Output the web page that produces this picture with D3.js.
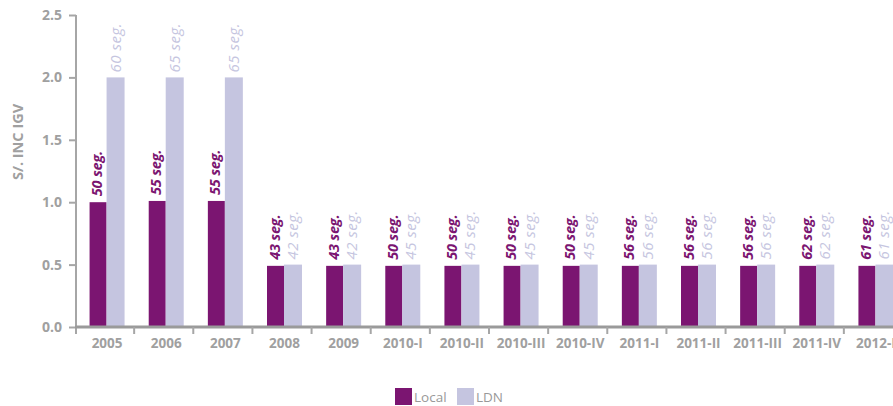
<!DOCTYPE html>
<html>
<head>
<meta charset="utf-8">
<script src="https://cdn.jsdelivr.net/npm/d3@7"></script>
<style>
  html, body { margin: 0; padding: 0; background: #fff; }
  svg { display: block; font-family: "Open Sans", "Noto Sans", sans-serif; }
</style>
</head>
<body>
<svg id="chart" width="893" height="406"></svg>
<script>
// Periods on the x axis
const categories = ["2005", "2006", "2007", "2008", "2009", "2010-I", "2010-II", "2010-III",
  "2010-IV", "2011-I", "2011-II", "2011-III", "2011-IV", "2012-I"];
// Price per call (S/. including IGV)
const localPrice = [1.0, 1.01, 1.01, 0.49, 0.49, 0.49, 0.49, 0.49, 0.49, 0.49, 0.49, 0.49, 0.49, 0.49];
const ldnPrice = [2.0, 2.0, 2.0, 0.5, 0.5, 0.5, 0.5, 0.5, 0.5, 0.5, 0.5, 0.5, 0.5, 0.5];
// Seconds included for that price
const localSeg = [50, 55, 55, 43, 43, 50, 50, 50, 50, 56, 56, 56, 62, 61];
const ldnSeg = [60, 65, 65, 42, 42, 45, 45, 45, 45, 56, 56, 56, 62, 61];
const yTicks = [0, 0.5, 1.0, 1.5, 2.0, 2.5];
const seriesNames = ["Local", "LDN"];

const colLocal = "#7b1571";
const colLDN = "#c5c5e0";
const axisGray = "#a6a6a6";
const textGray = "#a0a0a0";

const svg = d3.select("#chart");

const x = d3.scaleBand().domain(categories).range([75, 903]).padding(0);
const y = d3.scaleLinear().domain([0, 2.5]).range([327, 15]);

const bw = x.bandwidth();
const localW = 17, ldnW = 18;
const groupCenter = c => x(c) + bw / 2 + 2.5;
const localX = c => groupCenter(c) - (localW + ldnW) / 2;
const ldnX = c => localX(c) + localW;

// Bars
const g = svg.append("g");
g.selectAll("rect.local").data(categories).join("rect")
  .attr("class", "local")
  .attr("x", c => localX(c))
  .attr("width", localW)
  .attr("y", (c, i) => y(localPrice[i]))
  .attr("height", (c, i) => y(0) - y(localPrice[i]))
  .attr("fill", colLocal);
g.selectAll("rect.ldn").data(categories).join("rect")
  .attr("class", "ldn")
  .attr("x", c => ldnX(c))
  .attr("width", ldnW)
  .attr("y", (c, i) => y(ldnPrice[i]))
  .attr("height", (c, i) => y(0) - y(ldnPrice[i]))
  .attr("fill", colLDN);

// Rotated value labels
g.selectAll("text.lloc").data(categories).join("text")
  .attr("class", "lloc")
  .attr("transform", (c, i) => `translate(${localX(c) + localW / 2 + 4},${y(localPrice[i]) - 6}) rotate(-90)`)
  .attr("fill", colLocal)
  .attr("font-size", 14.5)
  .attr("font-weight", 700)
  .attr("font-style", "italic")
  .attr("letter-spacing", -0.2)
  .text((c, i) => `${localSeg[i]} seg.`);
g.selectAll("text.lldn").data(categories).join("text")
  .attr("class", "lldn")
  .attr("transform", (c, i) => `translate(${ldnX(c) + ldnW / 2 + 5},${y(ldnPrice[i]) - 5}) rotate(-90)`)
  .attr("fill", colLDN)
  .attr("font-size", 15)
  .attr("font-weight", 400)
  .attr("font-style", "italic")
  .attr("letter-spacing", 0.5)
  .text((c, i) => `${ldnSeg[i]} seg.`);

// Y axis
const yAxis = svg.append("g")
  .attr("transform", "translate(76,0)")
  .call(d3.axisLeft(y).tickValues(yTicks).tickFormat(d3.format(".1f")).tickSize(7).tickPadding(7));
yAxis.select(".domain").attr("stroke", axisGray).attr("stroke-width", 2)
  .attr("d", `M0,${y(2.5)}V${y(0) + 7}`);
yAxis.selectAll(".tick line").attr("stroke", axisGray).attr("stroke-width", 2);
yAxis.selectAll(".tick text")
  .attr("fill", textGray).attr("font-size", 14).attr("font-weight", 700)
  .attr("font-family", "'Open Sans', sans-serif");

// X axis baseline and separators between periods
const xAxis = svg.append("g").attr("transform", `translate(0,${y(0)})`);
xAxis.append("line")
  .attr("x1", 75).attr("x2", 893).attr("y1", 0).attr("y2", 0)
  .attr("stroke", "#9a9a9a").attr("stroke-width", 3);
xAxis.selectAll("line.sep").data(categories.slice(1)).join("line")
  .attr("class", "sep")
  .attr("x1", c => x(c)).attr("x2", c => x(c))
  .attr("y1", 0).attr("y2", 7)
  .attr("stroke", axisGray).attr("stroke-width", 2);
xAxis.selectAll("text").data(categories).join("text")
  .attr("x", c => groupCenter(c))
  .attr("y", 21)
  .attr("text-anchor", "middle")
  .attr("fill", textGray)
  .attr("font-size", 13.5)
  .attr("font-weight", 700)
  .text(c => c);

// Y axis title
svg.append("text")
  .attr("transform", `translate(23,${142}) rotate(-90)`)
  .attr("text-anchor", "middle")
  .attr("fill", textGray)
  .attr("font-size", 14.5)
  .attr("font-weight", 700)
  .text("S/. INC IGV");

// Legend
const legend = svg.append("g").attr("transform", "translate(395,388)");
const items = legend.selectAll("g").data(seriesNames).join("g")
  .attr("transform", (d, i) => `translate(${i * 62},0)`);
items.append("rect").attr("width", 17).attr("height", 17)
  .attr("fill", (d, i) => i === 0 ? colLocal : colLDN);
items.append("text").attr("x", 19).attr("y", 14)
  .attr("fill", "#999").attr("font-size", 13.5)
  .text(d => d);
</script>
</body>
</html>
